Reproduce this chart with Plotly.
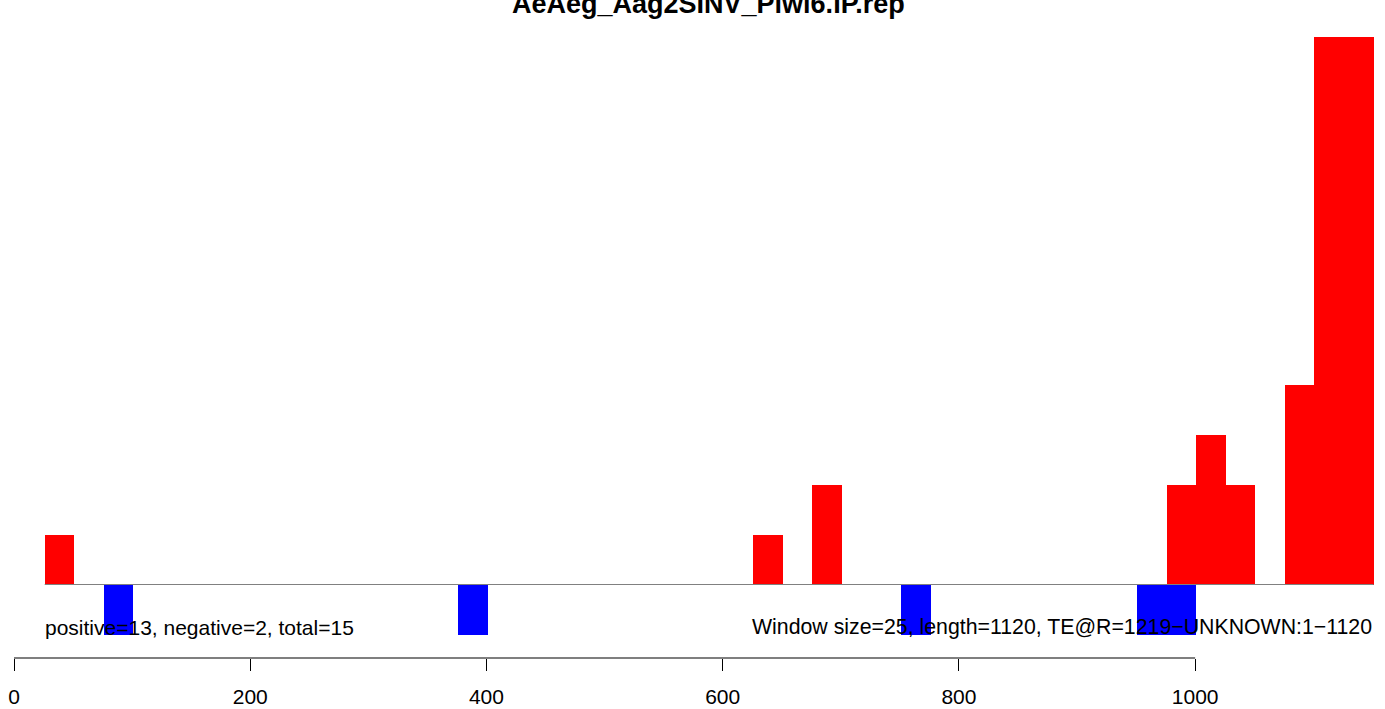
import plotly.graph_objects as go

title = "AeAeg_Aag2SINV_Piwi6.IP.rep"
window = 25
pos_starts = [26, 626, 676, 976, 1001, 1026, 1076, 1101, 1126]
pos_vals = [1, 1, 2, 2, 3, 2, 4, 10.95, 10.95]
neg_starts = [76, 376, 751, 951, 976]
neg_vals = [-1, -1, -1, -1, -1]
tick_vals = [0, 200, 400, 600, 800, 1000]
left_text = "positive=13, negative=2, total=15"
right_text = "Window size=25, length=1120, TE@R=1219\u2212UNKNOWN:1\u22121120"

W, H = 1385, 709
FONT = "Liberation Sans, Arial, Helvetica, sans-serif"

fig = go.Figure()
fig.add_trace(go.Bar(x=[s + window / 2 for s in pos_starts], y=pos_vals, width=window,
                     marker=dict(color="#FF0000", line=dict(width=0)), showlegend=False))
fig.add_trace(go.Bar(x=[s + window / 2 for s in neg_starts], y=neg_vals, width=window,
                     marker=dict(color="#0000FF", line=dict(width=0)), showlegend=False))

x_first = min(pos_starts + neg_starts)
x_last = max(pos_starts + neg_starts) + window

# baseline
fig.add_shape(type="line", x0=x_first, x1=x_last, y0=0, y1=0, xref="x", yref="y",
              line=dict(color="#808080", width=1), layer="above")
# R-style axis line spanning tick range
fig.add_shape(type="line", x0=tick_vals[0], x1=tick_vals[-1], y0=0, y1=0, xref="x", yref="paper",
              line=dict(color="black", width=1.2))

plot_h = 658
fig.add_annotation(text=left_text, x=x_first, y=-0.85, xref="x", yref="y", xanchor="left",
                   xshift=-2, yanchor="middle", showarrow=False,
                   font=dict(size=21, color="black", family=FONT))
fig.add_annotation(text=right_text, x=x_last, y=-0.85, xref="x", yref="y", xanchor="right",
                   yanchor="middle", showarrow=False, font=dict(size=21.3, color="black", family=FONT))
fig.add_annotation(text="<b>" + title + "</b>", x=709 / W, y=1 - 4 / plot_h, xref="paper", yref="paper",
                   xanchor="center", yanchor="middle", showarrow=False,
                   font=dict(size=27, color="black", family=FONT))

scale = (1373.5 - 14) / 1151.0
xmin = -14 / scale
xmax = xmin + W / scale
ymax = 584.5 / 50
ymin = -(plot_h - 584.5) / 50

fig.update_layout(
    width=W, height=H, margin=dict(l=0, r=0, t=0, b=H - plot_h),
    plot_bgcolor="white", paper_bgcolor="white", barmode="overlay", bargap=0,
    font=dict(family=FONT, size=21, color="black"),
    xaxis=dict(range=[xmin, xmax], tickvals=tick_vals, ticktext=[str(t) for t in tick_vals],
               ticks="outside", ticklen=12, tickwidth=1.2, tickcolor="black",
               ticklabelstandoff=8,
               showgrid=False, zeroline=False, showline=False,
               tickfont=dict(size=21, family=FONT, color="black")),
    yaxis=dict(range=[ymin, ymax], visible=False, showgrid=False, zeroline=False),
)
fig.write_html("out.html", config={"displayModeBar": False},
               post_script="document.body.style.margin='0';document.body.style.overflow='hidden';")
